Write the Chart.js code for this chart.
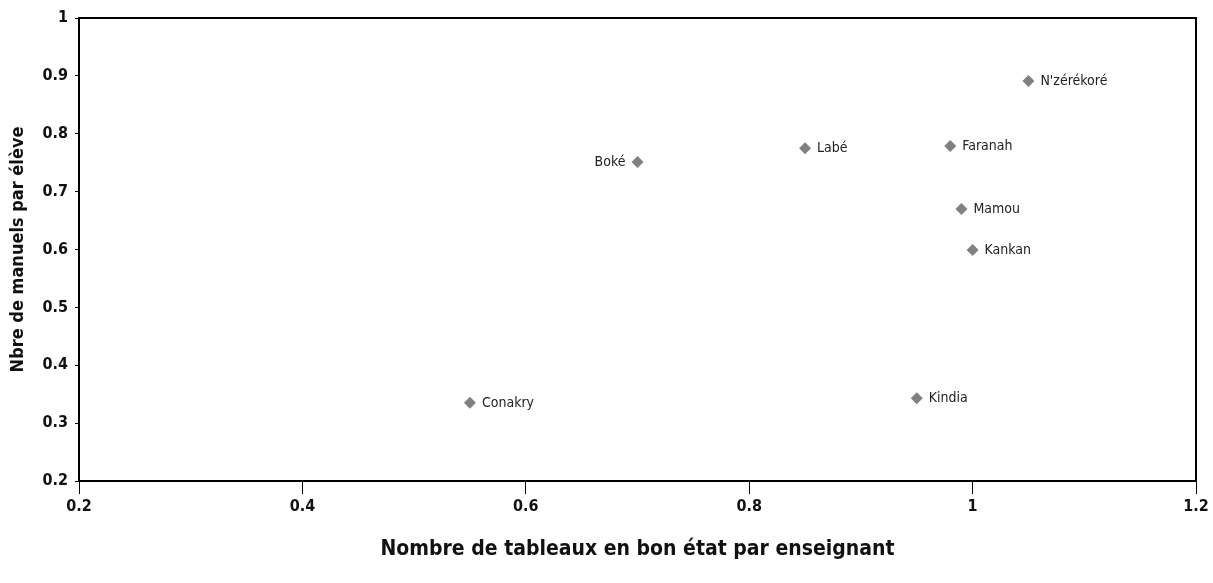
<!DOCTYPE html>
<html>
<head>
<meta charset="utf-8">
<script src="https://cdn.jsdelivr.net/npm/chart.js@4/dist/chart.umd.min.js"></script>
<style>
html,body{margin:0;padding:0;background:#fff;}
#wrap{width:1213px;height:583px;position:relative;}
</style>
</head>
<body>
<div id="wrap"><canvas id="c" width="1213" height="583"></canvas></div>
<script>
const regions = ["Conakry","Boké","Labé","Kindia","Faranah","Mamou","Kankan","N'zérékoré"];
const tableaux = [0.55, 0.70, 0.85, 0.95, 0.98, 0.99, 1.00, 1.05];
const manuels  = [0.335, 0.751, 0.775, 0.343, 0.779, 0.670, 0.599, 0.891];
const labelSide = ["right","left","right","right","right","right","right","right"];
const xTicks = [0.2, 0.4, 0.6, 0.8, 1, 1.2];
const yTicks = [0.2, 0.3, 0.4, 0.5, 0.6, 0.7, 0.8, 0.9, 1];

const FONT = "'Liberation Sans Narrow', 'Arial Narrow', 'DejaVu Sans Condensed', sans-serif";

const labelPlugin = {
  id: 'pointLabels',
  afterDatasetsDraw(chart) {
    const ctx = chart.ctx;
    const meta = chart.getDatasetMeta(0);
    ctx.save();
    ctx.font = "14px " + FONT;
    ctx.fillStyle = '#222';
    ctx.textBaseline = 'middle';
    meta.data.forEach((pt, i) => {
      if (labelSide[i] === 'left') {
        ctx.textAlign = 'right';
        ctx.fillText(regions[i], pt.x - 12, pt.y);
      } else {
        ctx.textAlign = 'left';
        ctx.fillText(regions[i], pt.x + 12, pt.y);
      }
    });
    ctx.restore();
  }
};

const framePlugin = {
  id: 'frame',
  afterDraw(chart) {
    const a = chart.chartArea;
    const ctx = chart.ctx;
    ctx.save();
    ctx.strokeStyle = '#000';
    ctx.lineWidth = 2;
    ctx.strokeRect(a.left, a.top, a.right - a.left, a.bottom - a.top);
    ctx.restore();
  }
};

new Chart(document.getElementById('c'), {
  type: 'scatter',
  data: {
    datasets: [{
      data: tableaux.map((x, i) => ({x: x, y: manuels[i]})),
      backgroundColor: '#808080',
      borderColor: '#808080',
      pointStyle: 'rectRot',
      pointRadius: 6,
      pointHoverRadius: 6,
      borderWidth: 0
    }]
  },
  options: {
    responsive: false,
    animation: false,
    events: [],
    layout: { padding: { top: 18, right: 17, left: 0, bottom: 0 } },
    plugins: { legend: { display: false }, tooltip: { enabled: false } },
    scales: {
      x: {
        type: 'linear',
        min: 0.2, max: 1.2,
        afterBuildTicks: (s) => { s.ticks = xTicks.map(v => ({value: v})); },
        afterFit: (s) => { s.height = 102; },
        ticks: {
          color: '#111',
          font: { family: FONT, size: 16, weight: 'bold' },
          padding: 3,
          callback: (v) => String(v)
        },
        grid: { display: true, drawOnChartArea: false, drawTicks: true, tickLength: 13, color: '#000', lineWidth: 1 },
        border: { display: true, color: '#000', width: 2 },
        title: {
          display: true,
          text: 'Nombre de tableaux en bon état par enseignant',
          color: '#111',
          font: { family: FONT, size: 21, weight: 'bold' },
          padding: { top: 0, bottom: 21 }
        }
      },
      y: {
        type: 'linear',
        min: 0.2, max: 1,
        afterBuildTicks: (s) => { s.ticks = yTicks.map(v => ({value: v})); },
        afterFit: (s) => { s.width = 79; },
        ticks: {
          color: '#111',
          font: { family: FONT, size: 16, weight: 'bold' },
          padding: 7,
          callback: (v) => String(v)
        },
        grid: { display: true, drawOnChartArea: false, drawTicks: true, tickLength: 4, color: '#000', lineWidth: 1 },
        border: { display: true, color: '#000', width: 2 },
        title: {
          display: true,
          text: 'Nbre de manuels par élève',
          color: '#111',
          font: { family: FONT, size: 18, weight: 'bold' },
          padding: { top: 8, bottom: 0 }
        }
      }
    }
  },
  plugins: [labelPlugin, framePlugin]
});
</script>
</body>
</html>
